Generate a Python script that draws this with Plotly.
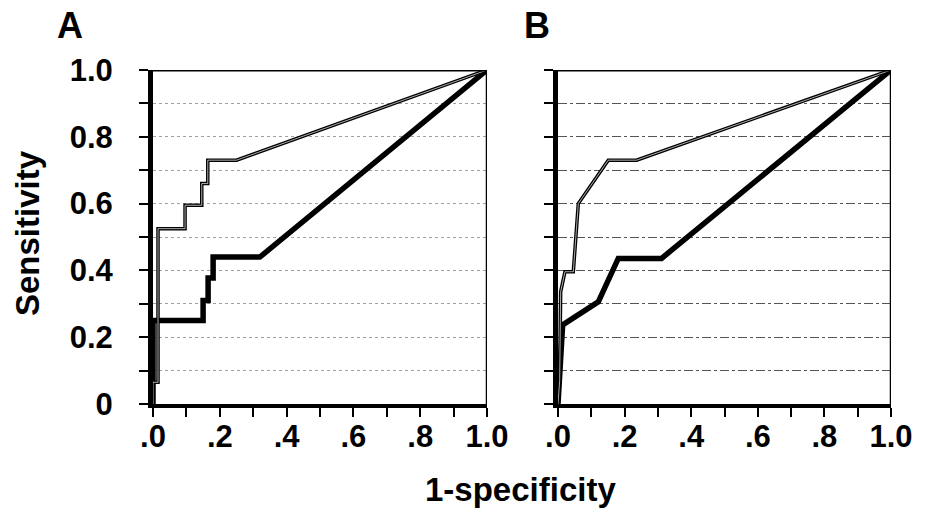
import plotly.graph_objects as go

# ROC curves: 1-specificity (x) vs sensitivity (y)
a_thin_x = [0, 0, 0.015, 0.015, 0.096, 0.096, 0.146, 0.146, 0.164, 0.164, 0.25, 1.0]
a_thin_y = [0, 0.065, 0.065, 0.525, 0.525, 0.595, 0.595, 0.66, 0.66, 0.73, 0.73, 1.0]
a_thick_x = [0, 0, 0.15, 0.15, 0.165, 0.165, 0.18, 0.18, 0.32, 1.0]
a_thick_y = [0, 0.25, 0.25, 0.31, 0.31, 0.377, 0.377, 0.44, 0.44, 1.0]

b_thin_x = [0, 0.005, 0.008, 0.021, 0.046, 0.061, 0.151, 0.236, 1.0]
b_thin_y = [0, 0.07, 0.336, 0.396, 0.396, 0.60, 0.73, 0.73, 1.0]
b_thick_x = [0, 0.014, 0.121, 0.181, 0.311, 1.0]
b_thick_y = [0, 0.237, 0.306, 0.436, 0.436, 1.0]

tick_vals = [i / 10 for i in range(11)]
x_tick_text = [".0", "", ".2", "", ".4", "", ".6", "", ".8", "", "1.0"]
y_tick_text = ["0", "", "0.2", "", "0.4", "", "0.6", "", "0.8", "", "1.0"]
panel_labels = ["A", "B"]
x_title = "1-specificity"
y_title = "Sensitivity"

FONT = "Liberation Sans, Arial, sans-serif"
W, H = 933, 509

fig = go.Figure()


def add_curve(x, y, xa, ya, thick):
    if thick:
        fig.add_trace(go.Scatter(x=x, y=y, xaxis=xa, yaxis=ya, mode="lines",
                                 line=dict(color="black", width=5.5),
                                 hoverinfo="skip", showlegend=False))
    else:
        # outlined thin curve: black stroke with a pale core
        fig.add_trace(go.Scatter(x=x, y=y, xaxis=xa, yaxis=ya, mode="lines",
                                 line=dict(color="black", width=3.5),
                                 hoverinfo="skip", showlegend=False))
        fig.add_trace(go.Scatter(x=x, y=y, xaxis=xa, yaxis=ya, mode="lines",
                                 line=dict(color="#d8d8d8", width=0.8),
                                 hoverinfo="skip", showlegend=False))


add_curve(a_thick_x, a_thick_y, "x", "y", True)
add_curve(a_thin_x, a_thin_y, "x", "y", False)
add_curve(b_thick_x, b_thick_y, "x2", "y2", True)
add_curve(b_thin_x, b_thin_y, "x2", "y2", False)

y_dom = [1 - 404 / H, 1 - 70 / H]
xa_dom = [153 / W, 487 / W]
xb_dom = [558 / W, 891 / W]

tick_font = dict(family=FONT, size=31, color="black", weight="bold")

common_x = dict(range=[0, 1], tickvals=tick_vals, ticktext=x_tick_text,
                ticks="outside", ticklen=9, tickwidth=2, tickcolor="black",
                showline=True, linecolor="black", linewidth=3.5,
                mirror=False, showgrid=False, zeroline=False, automargin=False,
                tickfont=tick_font, ticklabelstandoff=-7, fixedrange=True)

fig.update_layout(
    template="none",
    width=W, height=H, autosize=False,
    margin=dict(l=0, r=0, t=0, b=0, pad=0),
    paper_bgcolor="white", plot_bgcolor="white",
    xaxis=dict(domain=xa_dom, anchor="y", **common_x),
    xaxis2=dict(domain=xb_dom, anchor="y2", **common_x),
    yaxis=dict(domain=y_dom, anchor="x", range=[0, 1], tickvals=tick_vals,
               ticktext=y_tick_text, ticks="outside", ticklen=9, tickwidth=2,
               tickcolor="black", showline=True, linecolor="black", linewidth=5,
               showgrid=True, gridcolor="#a0a0a0", gridwidth=1, griddash="dot",
               zeroline=False, automargin=False, tickfont=tick_font,
               ticklabelstandoff=20, fixedrange=True),
    yaxis2=dict(domain=y_dom, anchor="x2", range=[0, 1], tickvals=tick_vals,
                ticktext=[""] * 11, ticks="outside", ticklen=9, tickwidth=2,
                tickcolor="black", showline=True, linecolor="black", linewidth=5,
                showgrid=True, gridcolor="#555555", gridwidth=1, griddash="dashdot",
                zeroline=False, automargin=False, fixedrange=True),
)

# top and right frame lines of each panel
for xr, yr in (("x", "y"), ("x2", "y2")):
    fig.add_shape(type="line", xref=xr, yref=yr, x0=0, x1=1, y0=1, y1=1,
                  line=dict(color="black", width=3))
    fig.add_shape(type="line", xref=xr, yref=yr, x0=1, x1=1, y0=0, y1=1,
                  line=dict(color="black", width=2.5))

# panel letters
for label, xpx in zip(panel_labels, (55, 522)):
    fig.add_annotation(text=label, xref="paper", yref="paper",
                       x=xpx / W, y=1 - 3 / H, xanchor="left", yanchor="top",
                       showarrow=False,
                       font=dict(family=FONT, size=36, color="black", weight="bold"))

fig.add_annotation(text=x_title, xref="paper", yref="paper",
                   x=520 / W, y=1 - 489 / H, xanchor="center", yanchor="middle",
                   showarrow=False,
                   font=dict(family=FONT, size=33, color="black", weight="bold"))
fig.add_annotation(text=y_title, xref="paper", yref="paper",
                   x=28 / W, y=1 - 233 / H, xanchor="center", yanchor="middle",
                   textangle=-90, showarrow=False,
                   font=dict(family=FONT, size=33, color="black", weight="bold"))

fig.write_html("out.html")
